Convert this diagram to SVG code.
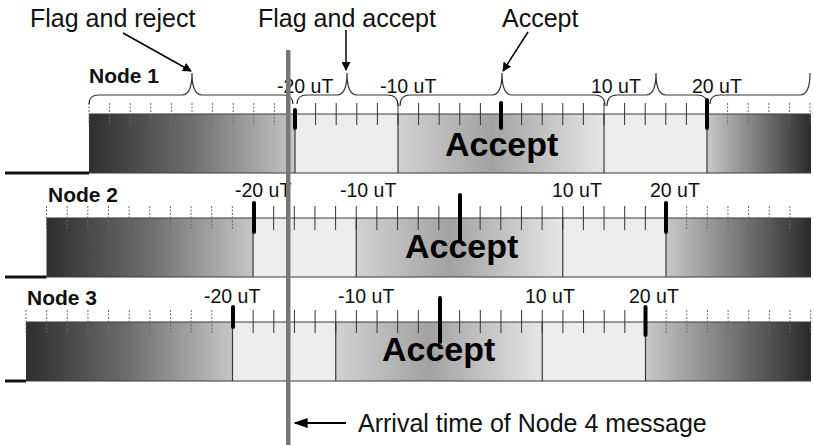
<svg xmlns="http://www.w3.org/2000/svg" width="814" height="445" viewBox="0 0 814 445">
<defs>
<linearGradient id="gDarkL" x1="0" y1="0" x2="1" y2="0"><stop offset="0" stop-color="#2e2e2e"/><stop offset="0.5" stop-color="#6e6e6e"/><stop offset="1" stop-color="#c6c6c6"/></linearGradient>
<linearGradient id="gDarkR" x1="0" y1="0" x2="1" y2="0"><stop offset="0" stop-color="#c8c8c8"/><stop offset="0.5" stop-color="#7a7a7a"/><stop offset="1" stop-color="#2a2a2a"/></linearGradient>
<linearGradient id="gAcc" x1="0" y1="0" x2="1" y2="0"><stop offset="0" stop-color="#d2d2d2"/><stop offset="0.45" stop-color="#a2a2a2"/><stop offset="1" stop-color="#e6e6e6"/></linearGradient>
<marker id="ah" viewBox="0 0 10 10" refX="9" refY="5" markerWidth="9" markerHeight="9" markerUnits="userSpaceOnUse" orient="auto"><path d="M0,0 L10,5 L0,10 Z" fill="#000"/></marker>
<marker id="ah2" viewBox="0 0 10 10" refX="9" refY="5" markerWidth="14" markerHeight="14" markerUnits="userSpaceOnUse" orient="auto"><path d="M0,1.5 L10,5 L0,8.5 Z" fill="#000"/></marker>
</defs>
<style>
.light{fill:#ececec}
.edge{stroke:#3a3a3a;stroke-width:1.2;fill:none}
.sep{stroke:#3a3a3a;stroke-width:1.2}
.base{stroke:#111;stroke-width:3;fill:none}
.td{stroke:#6a6a6a;stroke-width:1;stroke-dasharray:2 1.5;fill:none}
.ts{stroke:#333;stroke-width:1;fill:none}
.mark{stroke:#000;stroke-width:4;stroke-linecap:round}
.brace{stroke:#333;stroke-width:1.2;fill:none}
.lbl{font-family:"Liberation Sans",Arial,sans-serif;font-size:19.5px;fill:#111}
.hdr{font-family:"Liberation Sans",Arial,sans-serif;font-size:25px;fill:#111}
.node{font-family:"Liberation Sans",Arial,sans-serif;font-size:21px;font-weight:bold;fill:#111}
.big{font-family:"Liberation Sans",Arial,sans-serif;font-size:34px;font-weight:bold;fill:#000}
.arr{stroke:#000;stroke-width:1.5;fill:none}
</style>
<rect width="814" height="445" fill="#fff"/>

<g id="node1">
<rect x="89" y="114" width="206" height="59" fill="url(#gDarkL)"/>
<rect x="295" y="114" width="103" height="59" class="light"/>
<rect x="398" y="114" width="206" height="59" fill="url(#gAcc)"/>
<rect x="604" y="114" width="103" height="59" class="light"/>
<rect x="707" y="114" width="104" height="59" fill="url(#gDarkR)"/>
<path class="edge" d="M89,114 H811 M89,173 H811"/>
<path class="sep" d="M295,114 V173 M398,114 V173 M604,114 V173 M707,114 V173"/>
<path class="base" d="M5,173 H89"/>
<path class="td" d="M89,103 V125 M109.6,103 V125 M130.2,103 V125 M150.8,103 V125 M171.4,103 V125 M192,103 V125 M212.6,103 V125 M233.2,103 V125 M253.8,103 V125 M274.4,103 V125 M727.6,103 V125 M748.2,103 V125 M768.8,103 V125 M789.4,103 V125 M810,103 V125"/>
<path class="ts" d="M315.6,103 V125 M336.2,103 V125 M356.8,103 V125 M377.4,103 V125 M398,103 V125 M418.6,103 V125 M439.2,103 V125 M459.8,103 V125 M480.4,103 V125 M521.6,103 V125 M542.2,103 V125 M562.8,103 V125 M583.4,103 V125 M604,103 V125 M624.6,103 V125 M645.2,103 V125 M665.8,103 V125 M686.4,103 V125"/>
<path class="brace" d="M89,104 Q89,95 99,95 H182 Q192,95 192,73 Q192,95 202,95 H283 Q293,95 293,104"/>
<path class="brace" d="M297,104 Q297,95 307,95 H337 Q347,95 347,73 Q347,95 357,95 H388 Q398,95 398,106"/>
<path class="brace" d="M400,106 Q400,95 410,95 H492 Q502,95 502,73 Q502,95 512,95 H595 Q605,95 605,106"/>
<path class="brace" d="M607,106 Q607,95 617,95 H646 Q656,95 656,73 Q656,95 666,95 H697 Q707,95 707,104"/>
<path class="brace" d="M710,104 Q710,95 720,95 H800 Q810,95 810,73"/>
<text class="node" x="89" y="83">Node 1</text>
<text class="lbl" x="277" y="93">-20 uT</text>
<text class="lbl" x="380" y="93">-10 uT</text>
<text class="lbl" x="591" y="93">10 uT</text>
<text class="lbl" x="692" y="93">20 uT</text>
<text class="big" x="445" y="156">Accept</text>
<path class="mark" d="M295,110 V128 M501,103 V128 M707,100 V128"/>
</g>

<g id="node2">
<rect x="46.5" y="218" width="206.5" height="59" fill="url(#gDarkL)"/>
<rect x="253" y="218" width="103.25" height="59" class="light"/>
<rect x="356.25" y="218" width="206.5" height="59" fill="url(#gAcc)"/>
<rect x="562.75" y="218" width="103.25" height="59" class="light"/>
<rect x="666" y="218" width="145" height="59" fill="url(#gDarkR)"/>
<path class="edge" d="M46.5,218 H811 M46.5,277 H811"/>
<path class="sep" d="M253,218 V277 M356.25,218 V277 M562.75,218 V277 M666,218 V277"/>
<path class="base" d="M5,277 H46.5"/>
<path class="td" d="M46.5,206 V230 M67.15,206 V230 M87.8,206 V230 M108.45,206 V230 M129.1,206 V230 M149.75,206 V230 M170.4,206 V230 M191.05,206 V230 M211.7,206 V230 M232.35,206 V230 M686.65,206 V230 M707.3,206 V230 M727.95,206 V230 M748.6,206 V230 M769.25,206 V230 M789.9,206 V230"/>
<path class="ts" d="M273.65,206 V230 M294.3,206 V230 M314.95,206 V230 M335.6,206 V230 M356.25,206 V230 M376.9,206 V230 M397.55,206 V230 M418.2,206 V230 M438.85,206 V230 M480.15,206 V230 M500.8,206 V230 M521.45,206 V230 M542.1,206 V230 M562.75,206 V230 M583.4,206 V230 M604.05,206 V230 M624.7,206 V230 M645.35,206 V230"/>
<text class="node" x="48" y="202">Node 2</text>
<text class="lbl" x="235" y="197">-20 uT</text>
<text class="lbl" x="340" y="197">-10 uT</text>
<text class="lbl" x="552" y="197">10 uT</text>
<text class="lbl" x="650" y="197">20 uT</text>
<text class="big" x="405" y="258">Accept</text>
<path class="mark" d="M254,203 V232 M460,195 V240 M666,203 V232"/>
</g>

<g id="node3">
<rect x="26" y="322" width="206.5" height="59" fill="url(#gDarkL)"/>
<rect x="232.5" y="322" width="103.25" height="59" class="light"/>
<rect x="335.75" y="322" width="206.5" height="59" fill="url(#gAcc)"/>
<rect x="542.25" y="322" width="103.25" height="59" class="light"/>
<rect x="645.5" y="322" width="165.5" height="59" fill="url(#gDarkR)"/>
<path class="edge" d="M26,322 H811 M26,381 H811"/>
<path class="sep" d="M232.5,322 V381 M335.75,322 V381 M542.25,322 V381 M645.5,322 V381"/>
<path class="base" d="M5,381 H26"/>
<path class="td" d="M26,310 V333 M46.65,310 V333 M67.3,310 V333 M87.95,310 V333 M108.6,310 V333 M129.25,310 V333 M149.9,310 V333 M170.55,310 V333 M191.2,310 V333 M211.85,310 V333 M666.15,310 V333 M686.8,310 V333 M707.45,310 V333 M728.1,310 V333 M748.75,310 V333 M769.4,310 V333 M790.05,310 V333 M810.7,310 V333"/>
<path class="ts" d="M253.15,310 V333 M273.8,310 V333 M294.45,310 V333 M315.1,310 V333 M335.75,310 V333 M356.4,310 V333 M377.05,310 V333 M397.7,310 V333 M418.35,310 V333 M459.65,310 V333 M480.3,310 V333 M500.95,310 V333 M521.6,310 V333 M542.25,310 V333 M562.9,310 V333 M583.55,310 V333 M604.2,310 V333 M624.85,310 V333"/>
<text class="node" x="27" y="305">Node 3</text>
<text class="lbl" x="204" y="303">-20 uT</text>
<text class="lbl" x="338" y="303">-10 uT</text>
<text class="lbl" x="525" y="303">10 uT</text>
<text class="lbl" x="629" y="303">20 uT</text>
<text class="big" x="382" y="361">Accept</text>
<path class="mark" d="M233,307 V327 M440,298 V342 M645.5,307 V335"/>
</g>

<g id="arrival-line">
<rect x="286" y="50" width="4.5" height="395" fill="#777"/>
</g>

<g id="labels">
<text class="hdr" x="30" y="27">Flag and reject</text>
<text class="hdr" x="258" y="27">Flag and accept</text>
<text class="hdr" x="502" y="27">Accept</text>
<text class="hdr" x="358" y="432">Arrival time of Node 4 message</text>
</g>

<g id="connectors">
<line class="arr" x1="123" y1="33" x2="191" y2="71" marker-end="url(#ah)"/>
<line class="arr" x1="346" y1="30" x2="346" y2="70" marker-end="url(#ah)"/>
<line class="arr" x1="528" y1="32" x2="503" y2="71" marker-end="url(#ah)"/>
<line class="arr" x1="346" y1="423" x2="295" y2="423" style="stroke-width:2" marker-end="url(#ah2)"/>
</g>
</svg>
